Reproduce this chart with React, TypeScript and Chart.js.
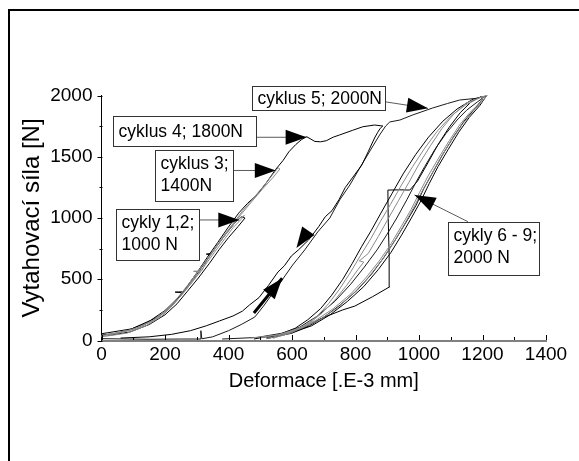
import React, { useEffect, useRef } from 'react';
import { Chart, registerables } from 'chart.js';

Chart.register(...registerables);

type P = [number, number];

// ---- axis / tick data ----
const X_MIN = 0, X_MAX = 1400, X_STEP = 200, X_MINOR = 100;
const Y_MIN = 0, Y_MAX = 2000, Y_STEP = 500, Y_MINOR = 250;
const xTickLabels = ['0', '200', '400', '600', '800', '1000', '1200', '1400'];
const yTickLabels = ['0', '500', '1000', '1500', '2000'];
const xTitle = 'Deformace [.E-3 mm]';
const yTitle = 'Vytahovací síla [N]';

// ---- measured curves (deformation [E-3 mm], force [N]) ----
const cycle1: P[] = [[0,45],[40,55],[80,80],[140,140],[190,215],[230,310],[265,420],[282,480],[300,540],[330,650],[344,700],[330,705],[348,712],[360,760],[395,880],[420,960],[440,1010],[452,1000],[430,930],[400,840],[370,740],[340,630],[305,510],[270,400],[238,300],[200,210],[150,130],[90,70],[20,40]];
const cycle2: P[] = [[0,35],[70,70],[130,120],[180,190],[225,290],[262,400],[298,520],[312,560],[290,565],[316,570],[334,660],[364,770],[400,900],[430,990],[450,1020],[440,990],[414,920],[388,830],[356,720],[322,600],[290,490],[255,380],[222,280],[190,200],[140,120],[80,60],[0,30]];
const cycle3: P[] = [[0,40],[100,90],[160,160],[205,250],[245,350],[280,470],[312,590],[345,710],[378,830],[410,940],[445,1060],[478,1160],[510,1260],[535,1340],[556,1410],[562,1400],[540,1330],[505,1230],[472,1130],[440,1030],[405,920],[372,800],[340,690],[306,570],[274,460],[240,350],[205,250],[160,160],[100,90],[30,50]];
const cycle4: P[] = [[0,55],[95,95],[155,165],[200,245],[240,345],[255,390],[232,395],[258,398],[272,450],[305,570],[336,690],[366,800],[398,920],[432,1040],[460,1120],[490,1190],[520,1290],[548,1395],[572,1470],[590,1540],[612,1600],[630,1640],[646,1664],[672,1625],[690,1622],[708,1631],[730,1660],[750,1678],[790,1715],[823,1745],[860,1759],[886,1751],[878,1732],[870,1700],[860,1653],[840,1541],[820,1433],[790,1327],[768,1250],[748,1150],[726,1060],[705,1011],[684,929],[652,820],[620,739],[598,690],[576,610],[556,560],[526,450],[496,350],[466,290],[444,240],[414,200],[372,160],[330,120],[280,80],[220,50],[150,30],[60,20]];
const cycle5: P[] = [[0,15],[150,10],[250,12],[313,12],[313,80],[316,14],[350,30],[400,80],[440,130],[483,192],[510,280],[535,370],[562,469],[602,616],[640,739],[681,886],[719,1000],[750,1147],[782,1269],[819,1433],[851,1571],[876,1678],[895,1751],[908,1784],[940,1800],[980,1841],[1043,1898],[1090,1935],[1128,1963],[1180,1977],[1210,1995],[1185,1950],[1150,1880],[1120,1800],[1085,1690],[1050,1560],[1018,1420],[990,1290],[962,1150],[930,1000],[900,870],[868,740],[828,600],[785,460],[735,320],[680,200],[625,110],[570,60],[490,25],[380,12]];
const cycle6: P[] = [[520,15],[600,60],[655,120],[700,190],[719,208],[760,250],[798,281],[854,358],[908,439],[906,700],[903,1000],[902,1228],[940,1230],[971,1228],[995,1300],[1028,1450],[1060,1600],[1095,1740],[1130,1860],[1165,1950],[1195,1990],[1200,1970],[1178,1900],[1142,1790],[1108,1660],[1075,1520],[1045,1380],[1015,1240],[990,1100],[958,960],[925,820],[890,680],[850,540],[805,410],[752,290],[700,190],[640,110],[590,60],[520,25]];
const cycle7: P[] = [[540,18],[600,65],[650,130],[695,225],[735,330],[772,450],[808,580],[826,640],[812,650],[840,710],[872,850],[902,990],[935,1140],[968,1290],[1000,1440],[1036,1590],[1072,1730],[1110,1850],[1150,1940],[1205,1995],[1192,1940],[1160,1860],[1128,1760],[1095,1630],[1062,1490],[1030,1350],[1002,1210],[975,1070],[944,930],[912,790],[875,650],[832,510],[785,380],[730,260],[672,160],[610,90],[555,45],[470,20]];
const cycle8: P[] = [[480,12],[560,50],[610,100],[650,170],[690,260],[725,370],[760,500],[790,630],[820,770],[850,900],[880,1040],[915,1200],[950,1360],[990,1520],[1030,1660],[1075,1790],[1120,1890],[1170,1970],[1212,1995],[1192,1920],[1158,1820],[1125,1700],[1092,1560],[1060,1420],[1032,1280],[1006,1140],[976,1000],[945,860],[912,720],[872,580],[826,440],[775,320],[720,210],[662,120],[600,65],[530,25]];
const cycle9: P[] = [[520,15],[590,60],[640,120],[680,200],[715,300],[750,420],[785,560],[815,690],[848,830],[878,970],[910,1110],[945,1270],[980,1420],[1018,1570],[1058,1710],[1100,1830],[1145,1920],[1190,1980],[1215,2000],[1198,1950],[1170,1870],[1138,1770],[1104,1640],[1070,1500],[1040,1360],[1010,1220],[982,1080],[952,940],[920,800],[884,660],[842,520],[796,390],[745,270],[688,170],[630,100],[575,55],[500,22]];

const seriesNames = ['cyklus 2', 'cyklus 3', 'cyklus 7', 'cyklus 9', 'cyklus 1', 'cyklus 4', 'cyklus 5', 'cyklus 6', 'cyklus 8'];
const seriesPoints = [cycle2, cycle3, cycle7, cycle9, cycle1, cycle4, cycle5, cycle6, cycle8];
const seriesColors = ['#8a8a8a', '#8a8a8a', '#8a8a8a', '#8a8a8a', '#000000', '#000000', '#1a1a1a', '#000000', '#000000'];

// ---- callouts (anchored in data coordinates) ----
const labelBoxes = [
  { x: 473.5, y: 2077, w: 133, h: 24, lines: ['cyklus 5; 2000N'] },
  { x: 35.2, y: 1835, w: 143, h: 30, lines: ['cyklus 4; 1800N'] },
  { x: 168.3, y: 1555, w: 78, h: 51, lines: ['cyklus 3;', '1400N'] },
  { x: 44.7, y: 1071, w: 83, h: 51, lines: ['cykly 1,2;', '1000 N'] },
  { x: 1091, y: 970, w: 91, h: 53, lines: ['cykly 6 - 9;', '2000 N'] },
];
const arrows = [
  { from: [892, 1949], to: [1028, 1895], line: 1 },
  { from: [485, 1659], to: [646, 1659], line: 1 },
  { from: [413, 1388], to: [549, 1388], line: 1 },
  { from: [304.5, 984], to: [434, 984], line: 1 },
  { from: [1154, 970], to: [986, 1188], line: 1 },
  { from: [653, 902], to: [614, 755], line: 0 },
  { from: [480, 224], to: [569, 508], line: 3 },
];

function hasFont(name: string): boolean {
  const c = document.createElement('canvas').getContext('2d');
  if (!c) return false;
  const s = 'abcdefghijklmnopqrstuvwxyz0123456789';
  c.font = '20px monospace';
  const a = c.measureText(s).width;
  c.font = `20px "${name}", monospace`;
  const b = c.measureText(s).width;
  return Math.abs(a - b) > 0.5;
}

export default function App() {
  const ref = useRef<HTMLCanvasElement>(null);

  useEffect(() => {
    const canvas = ref.current;
    if (!canvas) return;
    const narrow = hasFont('Liberation Sans Narrow');
    const NF = narrow ? '"Liberation Sans Narrow", "Liberation Sans", Arial, sans-serif' : '"Liberation Sans", Arial, sans-serif';
    const RF = '"Liberation Sans", Arial, sans-serif';
    const tickSize = narrow ? 23 : 19;
    const xTitleSize = narrow ? 24 : 20;
    const annSize = narrow ? 21 : 17.5;

    const overlay = {
      id: 'overlay',
      afterDraw(chart: any) {
        const { ctx } = chart;
        const xs = chart.scales.x, ys = chart.scales.y;
        const X = (v: number) => xs.getPixelForValue(v);
        const Y = (v: number) => ys.getPixelForValue(v);
        ctx.save();
        // axis ticks
        ctx.strokeStyle = '#000';
        ctx.lineWidth = 1;
        const base = Math.round(Y(0));
        for (let v = X_MIN; v <= X_MAX; v += X_MINOR) {
          const px = Math.round(X(v)) + 0.5;
          const len = v % X_STEP === 0 ? 5 : 3;
          ctx.beginPath(); ctx.moveTo(px, base - 1); ctx.lineTo(px, base - 1 - len); ctx.stroke();
        }
        const left = Math.round(X(0));
        for (let v = Y_MIN; v <= Y_MAX; v += Y_MINOR) {
          const py = Math.round(Y(v)) + 0.5;
          const len = v % Y_STEP === 0 ? 5 : 3;
          ctx.beginPath(); ctx.moveTo(left + 0.5, py); ctx.lineTo(left + 0.5 - len, py); ctx.stroke();
        }
        // arrow lines
        arrows.forEach((a) => {
          if (!a.line) return;
          ctx.lineWidth = a.line;
          ctx.strokeStyle = a.line > 1 ? '#000' : '#5a5a5a';
          ctx.beginPath();
          ctx.moveTo(X(a.from[0]), Y(a.from[1]));
          ctx.lineTo(X(a.to[0]), Y(a.to[1]));
          ctx.stroke();
        });
        // label boxes
        ctx.font = `${annSize}px ${NF}`;
        ctx.textBaseline = 'middle';
        ctx.textAlign = 'left';
        labelBoxes.forEach((b) => {
          const bx = Math.round(X(b.x)) + 0.5, by = Math.round(Y(b.y)) + 0.5;
          ctx.fillStyle = '#fff';
          ctx.fillRect(bx, by, b.w, b.h);
          ctx.strokeStyle = '#333';
          ctx.lineWidth = 1;
          ctx.strokeRect(bx, by, b.w, b.h);
          ctx.fillStyle = '#000';
          if (b.lines.length === 1) {
            ctx.fillText(b.lines[0], bx + 5, by + b.h / 2 + 1);
          } else {
            b.lines.forEach((t, i) => ctx.fillText(t, bx + 5, by + 14 + i * 22));
          }
        });
        // arrow heads
        ctx.fillStyle = '#000';
        arrows.forEach((a) => {
          const fx = X(a.from[0]), fy = Y(a.from[1]);
          const tx = X(a.to[0]), ty = Y(a.to[1]);
          const d = Math.hypot(tx - fx, ty - fy);
          const ux = (tx - fx) / d, uy = (ty - fy) / d;
          const len = 21, wid = 15;
          const bx = tx - ux * len, by = ty - uy * len;
          ctx.beginPath();
          ctx.moveTo(tx, ty);
          ctx.lineTo(bx - uy * wid / 2, by + ux * wid / 2);
          ctx.lineTo(bx + uy * wid / 2, by - ux * wid / 2);
          ctx.closePath();
          ctx.fill();
        });
        ctx.restore();
      },
    };

    const datasets = seriesPoints.map((pts, i) => ({
      label: seriesNames[i],
      data: pts.map(([x, y]) => ({ x, y })),
      showLine: true,
      borderColor: seriesColors[i],
      backgroundColor: seriesColors[i],
      borderWidth: 1,
      pointRadius: 0,
      tension: 0,
      clip: false as any,
    }));

    const chart = new Chart(canvas, {
      type: 'scatter',
      data: { datasets },
      options: {
        animation: false,
        responsive: false,
        maintainAspectRatio: false,
        events: [],
        layout: { padding: { left: 0, top: 95.5, right: 33, bottom: 0 } },
        plugins: { legend: { display: false }, tooltip: { enabled: false } },
        scales: {
          x: {
            type: 'linear',
            min: X_MIN,
            max: X_MAX,
            afterFit: (s: any) => { s.height = 120.5; },
            grid: { display: false, drawTicks: false },
            border: { display: true, color: '#808080', width: 2 },
            ticks: {
              stepSize: X_STEP,
              autoSkip: false,
              maxRotation: 0,
              padding: 3,
              color: '#000',
              font: { family: NF, size: tickSize },
              callback: (_v: any, i: number) => xTickLabels[i],
            },
            title: {
              display: true,
              text: xTitle,
              color: '#000',
              font: { family: NF, size: xTitleSize },
              padding: { top: 0, bottom: 68 },
            },
          },
          y: {
            type: 'linear',
            min: Y_MIN,
            max: Y_MAX,
            afterFit: (s: any) => { s.width = 101.5; },
            grid: { display: false, drawTicks: false },
            border: { display: true, color: '#000', width: 1 },
            ticks: {
              stepSize: Y_STEP,
              autoSkip: false,
              padding: 9,
              color: '#000',
              font: { family: NF, size: tickSize },
              callback: (_v: any, i: number) => yTickLabels[i],
            },
            title: {
              display: true,
              text: yTitle,
              color: '#000',
              font: { family: RF, size: 24 },
              padding: { top: 18, bottom: 0 },
            },
          },
        },
      },
      plugins: [overlay],
    } as any);
    return () => chart.destroy();
  }, []);

  return (
    <div style={{ position: 'fixed', left: 0, top: 0, width: 579, height: 461, background: '#fff', overflow: 'hidden' }}>
      <div style={{ position: 'absolute', left: 8, top: 9, width: 571, height: 452, borderLeft: '2px solid #000', borderTop: '2px solid #000', boxSizing: 'border-box' }} />
      <canvas ref={ref} width={579} height={461} style={{ position: 'absolute', left: 0, top: 0, width: 579, height: 461 }} />
    </div>
  );
}
